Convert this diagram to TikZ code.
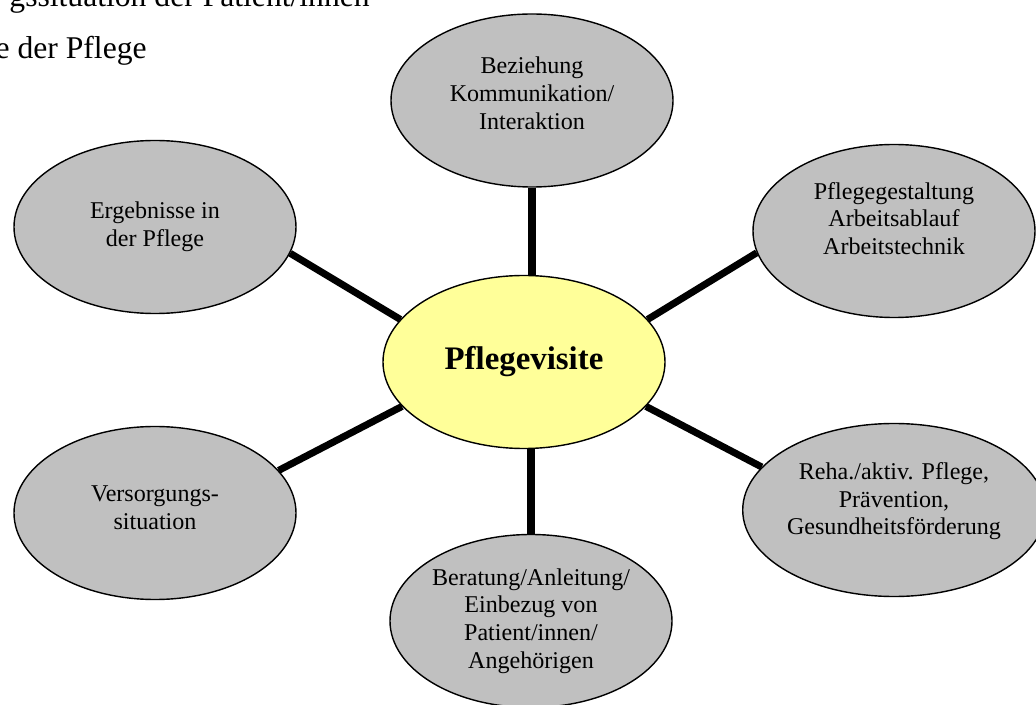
\documentclass[tikz,border=0pt]{standalone}
\usepackage{fontspec}
\setmainfont{Liberation Serif}
\usetikzlibrary{shapes.geometric}

\definecolor{blasegelb}{RGB}{255,255,153}
\definecolor{silbergrau}{RGB}{192,192,192}

\tikzset{
  blase/.style={ellipse, draw, line width=0.8pt, fill=silbergrau,
    minimum width=5.64cm, minimum height=3.46cm, inner sep=0pt,
    align=center, font=\fontsize{13.7}{15.8}\selectfont},
  mitte/.style={blase, fill=blasegelb, font=\fontsize{18.7}{22}\selectfont\bfseries},
  link/.style={line width=4pt},
  kopf/.style={anchor=base east, inner sep=0pt, font=\fontsize{18}{22}\selectfont}
}

\begin{document}
\begin{tikzpicture}
    \useasboundingbox (0,0) rectangle (20.72,14.08);
    \clip (0,0) rectangle (20.72,14.08);

    % Text lines cut off at the top left
    \node[kopf] (kopfA) at (7.40,13.94) {gssituation der Patient/innen};
    \node[kopf] (kopfB) at (2.94,12.90) {e der Pflege};

    % Centre
    \node[mitte] (zentrum) at (10.48,6.84) {Pflegevisite};

    % Outer bubbles
    \node[blase, text depth=0.3cm] (beziehung) at (10.64,12.07) {Beziehung\\Kommunikation/\\Interaktion};
    \node[blase, text depth=0.5cm] (gestaltung) at (17.88,9.46) {Pflegegestaltung\\Arbeitsablauf\\Arbeitstechnik};
    \node[blase] (ergebnisse) at (3.10,9.54) {Ergebnisse in\\der Pflege};
    \node[blase, text depth=0.2cm] (versorgung) at (3.10,3.82) {Versorgungs-\\situation};
    \node[blase, text depth=0.45cm] (reha) at (17.88,3.88) {Reha./aktiv. Pflege,\\Prävention,\\Gesundheitsförderung};
    \node[blase] (beratung) at (10.62,1.66) {Beratung/Anleitung/\\Einbezug von\\Patient/innen/\\Angehörigen};

    % Connectors
    \draw[link] (beziehung.south) -- (beziehung.south |- zentrum.north);
    \draw[link] (zentrum.south -| beratung.north) -- (beratung.north);
    \draw[link] (zentrum.161) -- (ergebnisse.349);
    \draw[link] (zentrum.19) -- (gestaltung.189);
    \draw[link] (zentrum.200) -- (versorgung.19);
    \draw[link] (zentrum.340) -- (reha.162);
\end{tikzpicture}
\end{document}
